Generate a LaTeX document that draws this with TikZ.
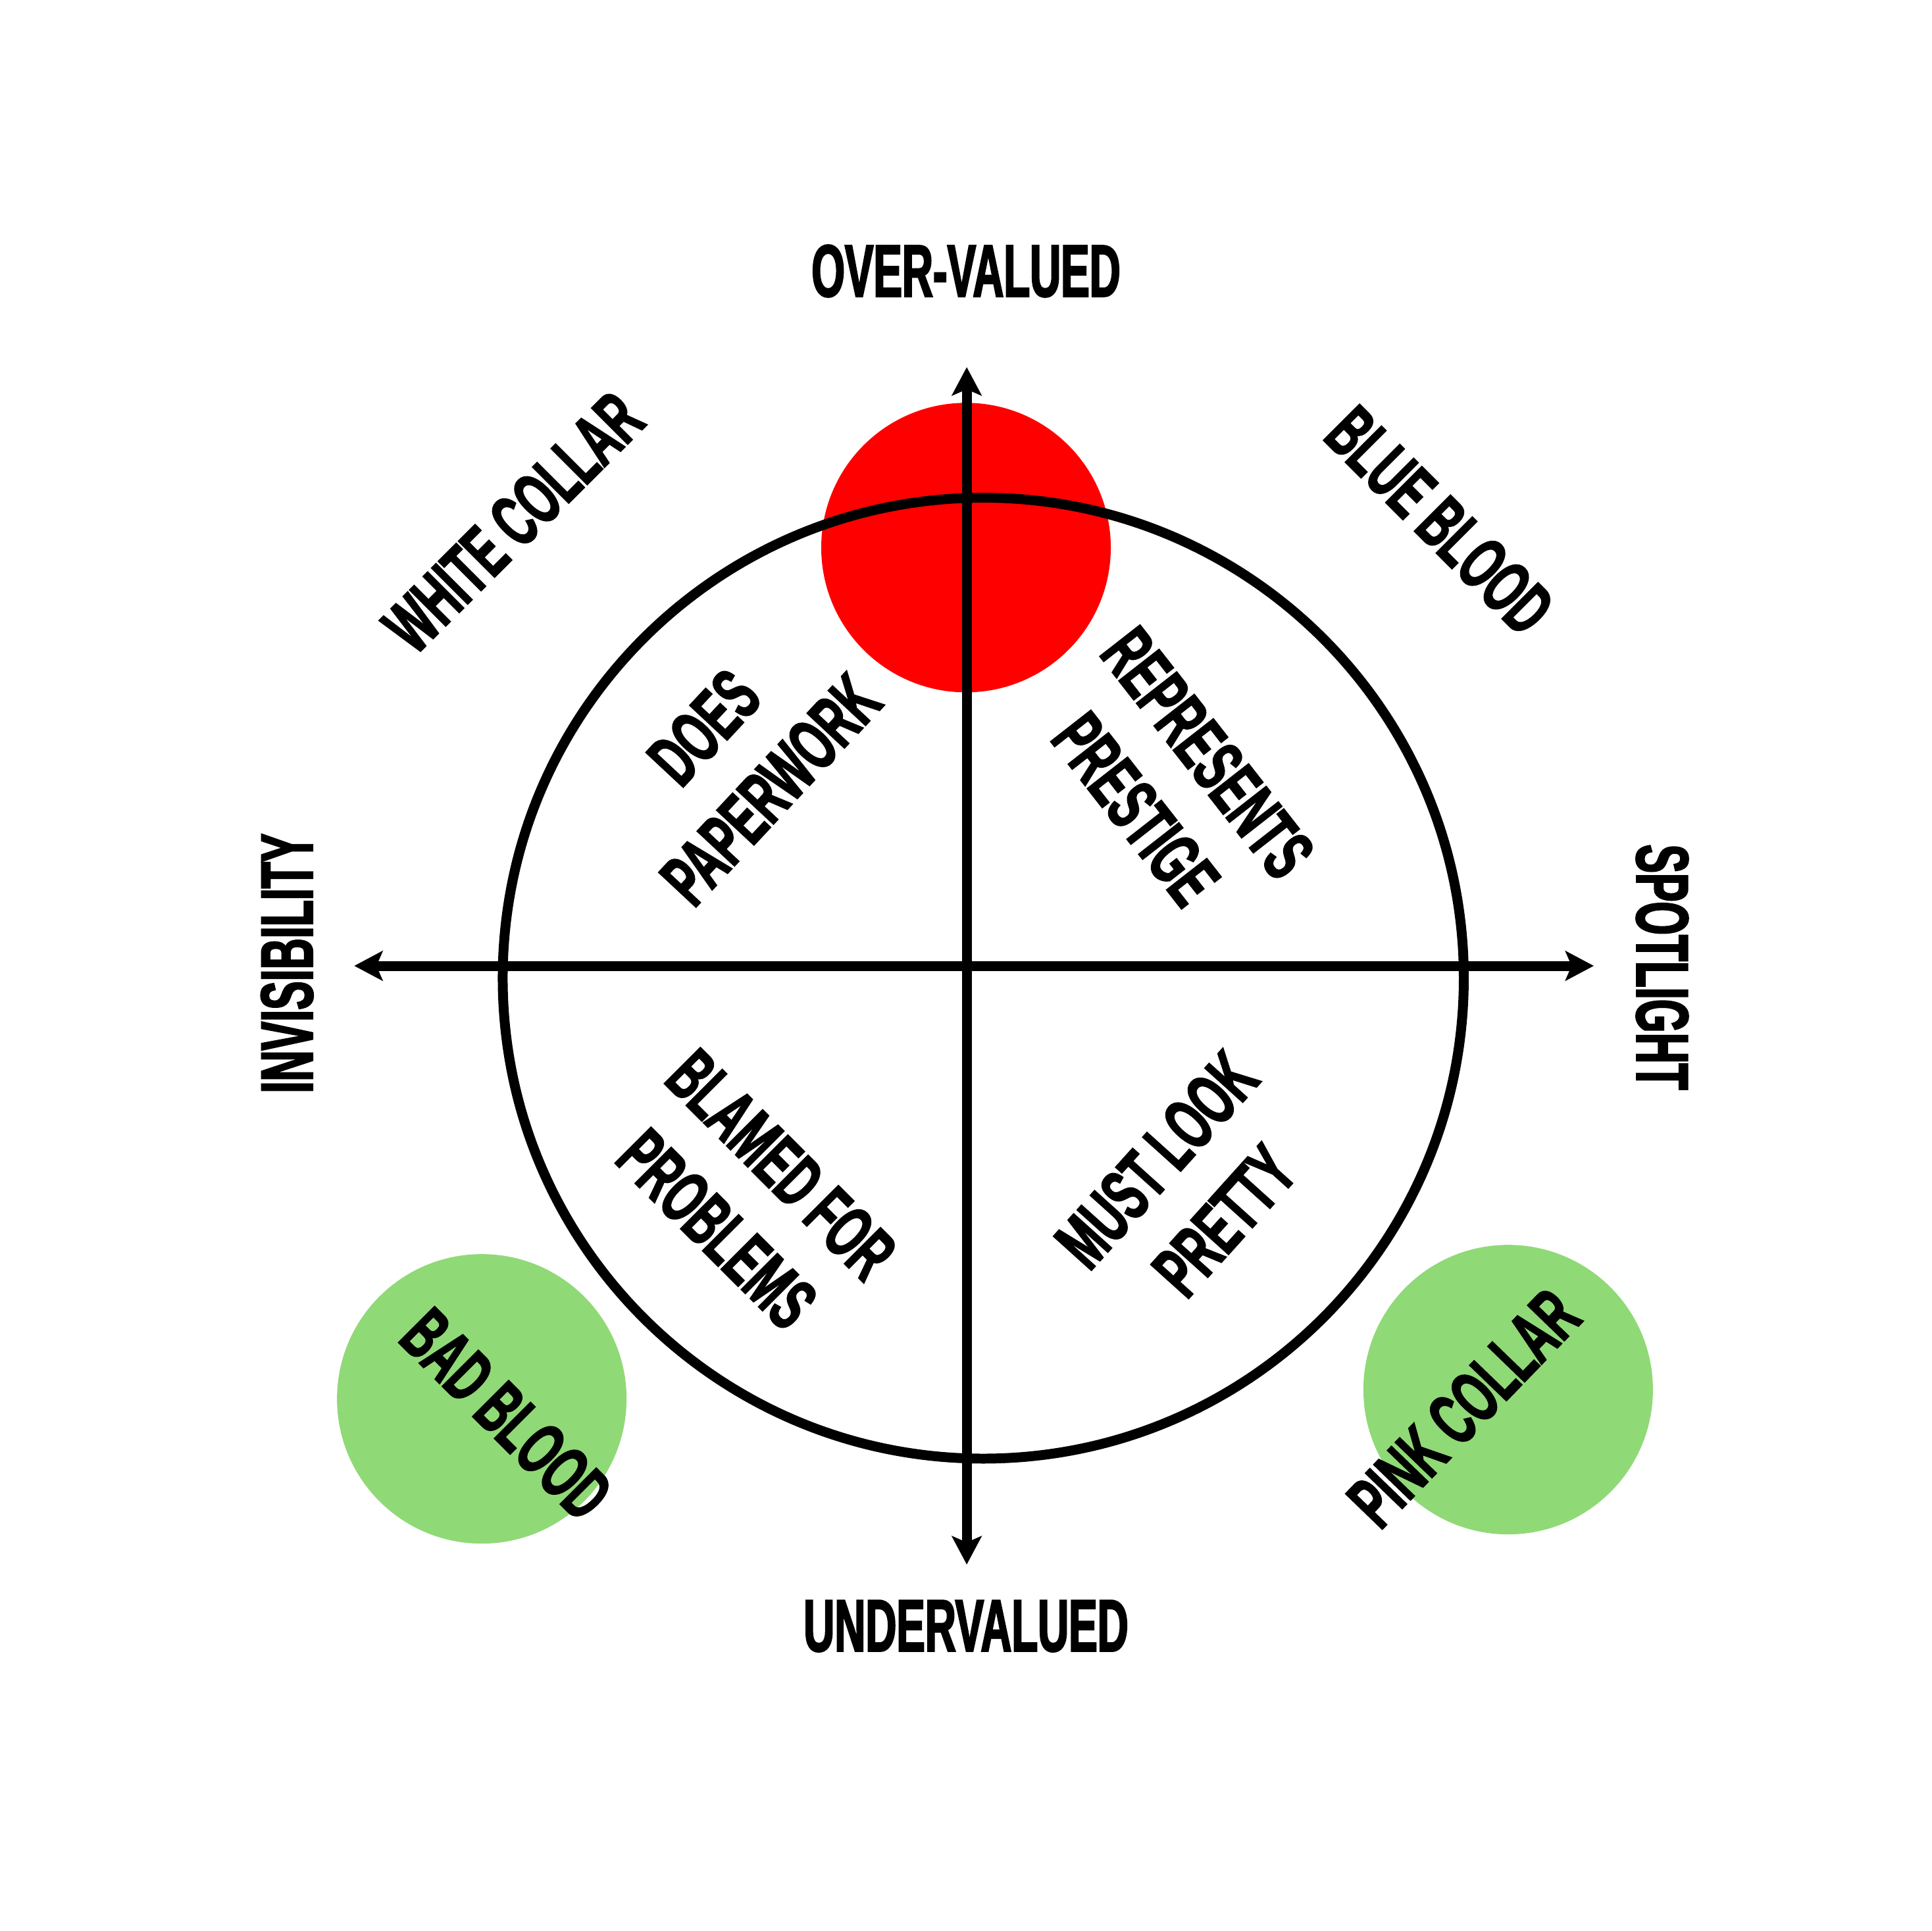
\documentclass[tikz,border=0pt]{standalone}
\usepackage{fontspec}
\setmainfont{Liberation Sans}[FakeStretch=0.58, FakeBold=2]
\usetikzlibrary{arrows.meta, positioning}
\definecolor{dotred}{RGB}{255,0,0}
\definecolor{dotgreen}{RGB}{144,217,119}

\begin{document}
\begin{tikzpicture}[x=1pt, y=-1pt,
	dot/.style={circle, minimum size=235pt, inner sep=0pt},
	ring/.style={circle, draw, line width=8pt, minimum size=780pt, inner sep=0pt},
	axis/.style={line width=8pt,
		{Stealth[length=23pt,width=24pt,inset=5pt]}-{Stealth[length=23pt,width=24pt,inset=5pt]}},
	lbl/.style={font=\fontsize{60}{74}\selectfont\bfseries, inner sep=0pt, align=center}]

\useasboundingbox (0,0) rectangle (1568,1567);

% dots behind everything
\node[dot, fill=dotred] (overdot) at (784,444.5) {};
\node[dot, fill=dotgreen] (baddot) at (391,1135.5) {};
\node[dot, fill=dotgreen] (pinkdot) at (1224,1128) {};

\node[ring] (ring) at (798,794) {};

\coordinate (top) at (784.6,298);
\coordinate (bottom) at (784.6,1270);
\coordinate (left) at (287.5,784);
\coordinate (right) at (1293.5,784);
\draw[axis] (top) -- (bottom);
\draw[axis] (left) -- (right);

% axis labels
\node[lbl] (over) at (784,220) {OVER-VALUED};
\node[lbl] (under) at (784,1320) {UNDERVALUED};
\node[lbl, rotate=90] (invis) at (233,782) {INVISIBILITY};
\node[lbl, rotate=-90] (spot) at (1349,785) {SPOTLIGHT};

% corner labels
\node[lbl, rotate=45] (white) at (416.6,424) {WHITE COLLAR};
\node[lbl, rotate=-45] (blue) at (1168.5,422.5) {BLUE BLOOD};
\node[lbl, rotate=-45] (bad) at (411,1148) {BAD BLOOD};
\node[lbl, rotate=46] (pink) at (1188,1143) {PINK COLLAR};

% quadrant labels
\node[lbl, rotate=47] (paper) at (598.5,615.7) {DOES\\PAPERWORK};
\node[lbl, rotate=-52] (prestige) at (951,634) {REPRESENTS\\PRESTIGE};
\node[lbl, rotate=-45] (blamed) at (608,971.5) {BLAMED FOR\\PROBLEMS};
\node[lbl, rotate=48] (pretty) at (966,966) {MUST LOOK\\PRETTY};
\end{tikzpicture}
\end{document}
